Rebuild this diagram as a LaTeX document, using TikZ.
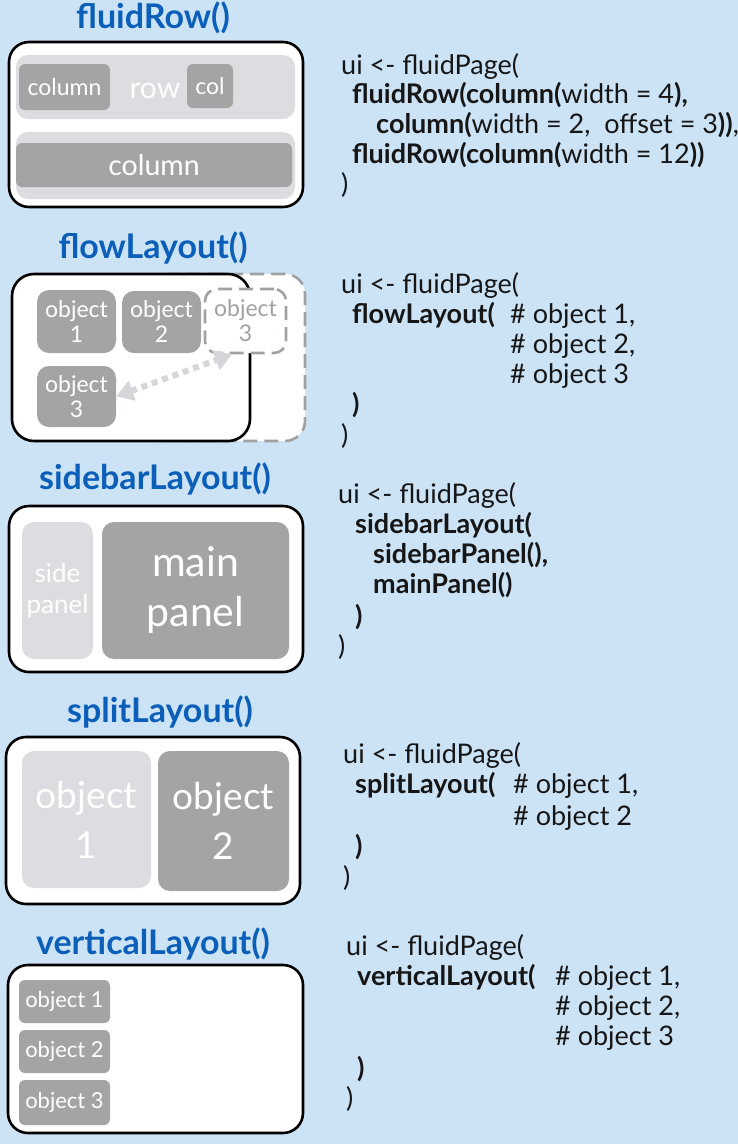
\documentclass[tikz,border=0pt]{standalone}
\usepackage{fontspec}
\setmainfont{Lato}
\usetikzlibrary{arrows.meta}
\definecolor{LYBack}{HTML}{CCE3F6}
\definecolor{LYBlue}{HTML}{0B5FB9}
\definecolor{LYDark}{HTML}{A3A5A4}
\definecolor{LYLight}{HTML}{DCDDE0}
\definecolor{LYGhost}{HTML}{A0A2A2}
\definecolor{LYArrow}{HTML}{D4D6D9}
\definecolor{LYCode}{HTML}{161616}
\tikzset{
  frame/.style={draw=black,line width=2.6pt,fill=white,rounded corners=20pt,inner sep=0pt},
  darkbox/.style={fill=LYDark,text=white,rounded corners=6pt,inner sep=0pt,align=center},
  lightbox/.style={fill=LYLight,text=white,rounded corners=12pt,inner sep=0pt,align=center},
  ghostbox/.style={draw=LYGhost,fill=white,text=LYGhost,dash pattern=on 14pt off 7pt,line width=2.6pt,rounded corners=12pt,inner sep=0pt,align=center},
  title/.style={text=LYBlue,font=\fontsize{34}{38}\selectfont\bfseries},
  code/.style={anchor=base west,inner sep=0pt,text=LYCode,font=\fontsize{27}{30}\selectfont},
  small/.style={font=\fontsize{23}{25}\selectfont},
}

\begin{document}
\begin{tikzpicture}[x=1pt,y=-1pt]
\path[use as bounding box,fill=LYBack] (0,0) rectangle (738,1144);
% fluidRow
\node[title] (tRow) at (153,18) {fluidRow()};
\node[frame,minimum width=294,minimum height=165] (outRow) at (156,124.5) {};
\node[lightbox,minimum width=279,minimum height=64] (rowA) at (155.5,87) {};
\node[text=white,font=\fontsize{30}{32}\selectfont] (rowTxt) at (155,91) {row};
\node[darkbox,small,minimum width=91,minimum height=46] (colA) at (64.5,87) {column};
\node[darkbox,small,minimum width=46,minimum height=44] (colB) at (210,86) {col};
\node[lightbox,minimum width=279,minimum height=67] (rowB) at (155.5,165.5) {};
\node[darkbox,font=\fontsize{28.5}{30}\selectfont,minimum width=276,minimum height=44] (colC) at (154,165) {column};
\node[code] (cRow1) at (341,74) {ui <- fluidPage(};
\node[code] (cRow2) at (352,103) {\textbf{fluidRow(column(}width = 4\textbf{),}};
\node[code] (cRow3) at (376,133) {\textbf{column(}width = 2,\ \ offset = 3\textbf{))},};
\node[code] (cRow4) at (352,163) {\textbf{fluidRow(column(}width = 12\textbf{))}};
\node[code] (cRow5) at (341,193) {)};
% flowLayout
\node[title] (tFlow) at (153,248) {flowLayout()};
\node[draw=LYGhost,fill=white,dash pattern=on 14pt off 7pt,line width=2.6pt,rounded corners=20pt,minimum width=155,minimum height=167] (flowExt) at (227.5,357.5) {};
\node[frame,rounded corners=22pt,minimum width=238,minimum height=167] (outFlow) at (131,357.5) {};
\node[ghostbox,small,minimum width=81,minimum height=64] (ghost) at (245.5,321) {object\\3};
\node[darkbox,small,rounded corners=12pt,minimum width=79,minimum height=63] (objA) at (76.5,321.5) {object\\1};
\node[darkbox,small,rounded corners=12pt,minimum width=79,minimum height=62] (objB) at (161.5,322) {object\\2};
\node[darkbox,small,rounded corners=12pt,minimum width=79,minimum height=61] (objC) at (76.5,396.5) {object\\3};
\draw[LYArrow,line width=6pt,dash pattern=on 6pt off 5pt,{Triangle[width=20pt,length=17pt]}-{Triangle[width=20pt,length=17pt]}] (objC.east) -- (ghost.-112);
\node[code] (cFlow1) at (341,293) {ui <- fluidPage(};
\node[code] (cFlow2) at (352,323) {\textbf{flowLayout(}};
\node[code] (cFlow3) at (510,323) {\# object 1,};
\node[code] (cFlow4) at (510,353) {\# object 2,};
\node[code] (cFlow5) at (510,383) {\# object 3};
\node[code] (cFlow6) at (352,413) {\textbf{)}};
\node[code] (cFlow7) at (341,444) {)};
% sidebarLayout
\node[title] (tSide) at (155,479) {sidebarLayout()};
\node[frame,minimum width=294,minimum height=166] (outSide) at (156,589) {};
\node[lightbox,font=\fontsize{26}{31}\selectfont,minimum width=71,minimum height=137] (side) at (57.5,590.5) {side\\panel};
\node[darkbox,rounded corners=12pt,font=\fontsize{41}{50}\selectfont,minimum width=187,minimum height=137] (main) at (195.5,590.5) {main\\panel};
\node[code] (cSide1) at (338,503) {ui <- fluidPage(};
\node[code] (cSide2) at (355,533) {\textbf{sidebarLayout(}};
\node[code] (cSide3) at (373,563) {\textbf{sidebarPanel(),}};
\node[code] (cSide4) at (373,593) {\textbf{mainPanel()}};
\node[code] (cSide5) at (355,625) {\textbf{)}};
\node[code] (cSide6) at (338,655) {)};
% splitLayout
\node[title] (tSplit) at (160,712) {splitLayout()};
\node[frame,minimum width=294,minimum height=167] (outSplit) at (153,820.5) {};
\node[lightbox,font=\fontsize{37}{50}\selectfont,minimum width=129,minimum height=137] (splitA) at (86.5,819.5) {object\\1};
\node[darkbox,rounded corners=12pt,font=\fontsize{37}{50}\selectfont,minimum width=131,minimum height=140] (splitB) at (223.5,821) {object\\2};
\node[code] (cSplit1) at (343,763) {ui <- fluidPage(};
\node[code] (cSplit2) at (355,793) {\textbf{splitLayout(}};
\node[code] (cSplit3) at (513,793) {\# object 1,};
\node[code] (cSplit4) at (513,825) {\# object 2};
\node[code] (cSplit5) at (355,855) {\textbf{)}};
\node[code] (cSplit6) at (343,886) {)};
% verticalLayout
\node[title] (tVert) at (153,944) {verticalLayout()};
\node[frame,minimum width=295,minimum height=168] (outVert) at (155.5,1049) {};
\node[darkbox,small,font=\fontsize{22}{24}\selectfont,minimum width=91,minimum height=43] (vertA) at (64.5,1001.5) {object 1};
\node[darkbox,small,font=\fontsize{22}{24}\selectfont,minimum width=91,minimum height=43] (vertB) at (64.5,1051.5) {object 2};
\node[darkbox,small,font=\fontsize{22}{24}\selectfont,minimum width=91,minimum height=45] (vertC) at (64.5,1102.5) {object 3};
\node[code] (cVert1) at (346,955) {ui <- fluidPage(};
\node[code] (cVert2) at (357,985) {\textbf{verticalLayout(}};
\node[code] (cVert3) at (555,985) {\# object 1,};
\node[code] (cVert4) at (555,1015) {\# object 2,};
\node[code] (cVert5) at (555,1045) {\# object 3};
\node[code] (cVert6) at (357,1077) {\textbf{)}};
\node[code] (cVert7) at (346,1107) {)};
\end{tikzpicture}
\end{document}
